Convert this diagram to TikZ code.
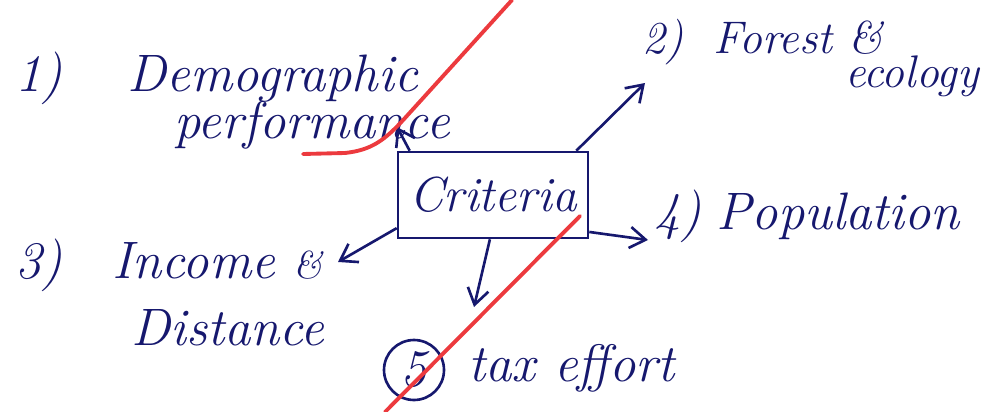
\documentclass[tikz,border=0pt]{standalone}
\usepackage{tikz}
\usetikzlibrary{arrows.meta}
\definecolor{ink}{RGB}{22,24,110}
\definecolor{redpen}{RGB}{236,58,62}
\tikzset{%
	label_text/.style={text=ink,font=\fontsize{30}{34}\selectfont\itshape,inner sep=0pt}
}
\tikzset{%
	small_text/.style={label_text,font=\fontsize{26}{29}\selectfont\itshape}
}
\tikzset{%
	pen_arrow/.style={draw=ink,line width=1.5pt,-{Straight Barb[length=9pt,width=12pt]}}
}
\tikzset{%
	red_stroke/.style={draw=redpen,line width=2.2pt,line cap=round}
}

\begin{document}
\begin{tikzpicture}[x=0.02cm,y=-0.02cm]
		\useasboundingbox (0,0) rectangle (997,412);

		%Central box
		\node [draw=ink,line width=1.5pt,minimum width=3.8cm,minimum height=1.72cm,label_text,font=\fontsize{28}{32}\selectfont\itshape] (box) at (493,195) {Criteria};

		%Labels
		\node [label_text,anchor=west] (crit1) at (15,78) {1)\hspace{1.3cm}Demographic};
		\node [label_text] (crit1b) at (312,125) {performance};
		\node [small_text,anchor=west] (crit2) at (642,42) {2)\hspace{0.6cm}Forest \&};
		\node [small_text] (crit2b) at (912,76) {ecology};
		\node [label_text,anchor=west] (crit3) at (15,265) {3)\hspace{1.0cm}Income {\fontsize{22}{24}\selectfont\&}};
		\node [label_text] (crit3b) at (228,328) {Distance};
		\node [label_text,anchor=west] (crit4) at (654,216) {4)\hspace{0.3cm}Population};
		\node [draw=ink,line width=1.5pt,circle,minimum size=1.2cm,label_text] (num5) at (414,370) {5};
		\node [label_text,anchor=west] (crit5) at (468,368) {tax effort};

		%Arrow ends
		\coordinate (a1) at (397,127);
		\coordinate (a2) at (645,83);
		\coordinate (a3) at (338,262);
		\coordinate (a4) at (648,240);
		\coordinate (a5) at (474,307);

		\draw [pen_arrow] (box.152) -- (a1);
		\draw [pen_arrow] (box.28) -- (a2);
		\draw [pen_arrow] (box.199) -- (a3);
		\draw [pen_arrow] (box.-21) -- (a4);
		\draw [pen_arrow] (box.-94) -- (a5);

		%Red strokes
		\coordinate (r1) at (303,154);
		\coordinate (r2) at (512,0);
		\coordinate (r3) at (385,412);
		\coordinate (r4) at (580,216);
		\draw [red_stroke] (r1) -- (345,153) .. controls (372,150) and (385,140) .. (405,118) -- (r2);
		\draw [red_stroke] (r3) -- (r4);

	\end{tikzpicture}
\end{document}
